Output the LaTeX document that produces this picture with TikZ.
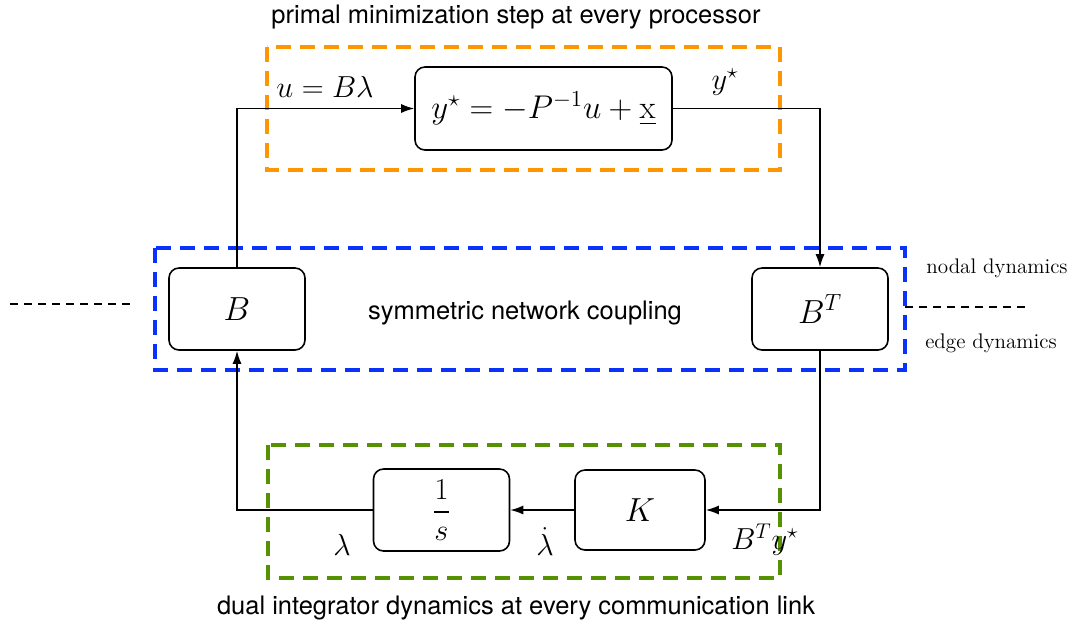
\RequirePackage{fix-cm}
\documentclass[tikz,border=0pt]{standalone}
\usepackage{amsmath, amssymb}
\usepackage{fontspec}
\newfontfamily\helv{TeX Gyre Heros}
\usepackage{tikz}
\usetikzlibrary{positioning, shapes, arrows.meta, calc}

\definecolor{boxorange}{RGB}{255,150,0}
\definecolor{boxblue}{RGB}{10,50,250}
\definecolor{boxgreen}{RGB}{85,145,0}

\begin{document}
\begin{tikzpicture}[node distance=3.97cm, auto,
  block/.style={draw, rounded corners=0.2cm, line width=0.9pt, minimum width=2.72cm, minimum height=1.64cm, inner sep=0pt, font=\fontsize{19}{23}\selectfont},
  group/.style={line width=2.2pt, dash pattern=on 0.3cm off 0.18cm},
  sig/.style={-{Latex[length=2.6mm, width=1.8mm]}, line width=0.8pt},
  note/.style={font=\helv\fontsize{14.5}{17}\selectfont},
  side/.style={font=\fontsize{12}{14}\selectfont},
  lbl/.style={font=\fontsize{17.3}{20}\selectfont},
  split/.style={dash pattern=on 0.16cm off 0.12cm, line width=0.8pt}]
  \useasboundingbox (0,0) rectangle (21.5,-12.52);

  % dashed groups
  \draw[group, boxorange] (5.34,-0.94) rectangle (15.60,-3.40);
  \draw[group, boxblue] (3.10,-4.96) rectangle (18.10,-7.40);
  \draw[group, boxgreen] (5.36,-8.90) rectangle (15.60,-11.56);

  % blocks
  \node[block] (B) at (4.74,-6.18) {$B$};
  \node[block] (BT) at (16.40,-6.18) {$B^T$};
  \node[block, minimum width=5.14cm, minimum height=1.66cm, font=\fontsize{18.7}{23}\selectfont] (primal) at (10.87,-2.17) {$y^\star = -P^{-1}u + \underline{\mathrm{x}}$};
  \node[block, font=\fontsize{17.3}{21}\selectfont] (integ) at (8.83,-10.20) {$\displaystyle\frac{1}{s}$};
  \node[block, minimum width=2.6cm, minimum height=1.6cm] (gain) [right of=integ] {$K$};

  % signals
  \draw[sig] (B.north) |- (primal.west);
  \draw[sig] (primal.east) -| (BT.north);
  \draw[sig] (BT.south) |- (gain.east);
  \draw[sig] (gain.west) -- (integ.east);
  \draw[sig] (integ.west) -| (B.south);

  % labels
  \node[lbl] (ulabel) at (6.50,-1.74) {$u = B\lambda$};
  \node[lbl] (ylabel) at (14.50,-1.64) {$y^\star$};
  \node[lbl] (lamlabel) at (6.84,-10.90) {$\lambda$};
  \node[lbl] (dlamlabel) at (10.90,-10.84) {$\dot\lambda$};
  \node[lbl] (bylabel) at (15.30,-10.80) {$B^Ty^\star$};

  \node[note] (primaltitle) at (10.32,-0.34) {primal minimization step at every processor};
  \node[note] (dualtitle) at (10.32,-12.16) {dual integrator dynamics at every communication link};
  \node[note] (coupling) at (10.50,-6.26) {symmetric network coupling};
  \node[side] (nodal) at (19.94,-5.36) {nodal dynamics};
  \node[side] (edge) at (19.82,-6.86) {edge dynamics};

  % level split
  \coordinate (lefta) at (0.20,-6.08);
  \coordinate (leftb) at (2.66,-6.08);
  \coordinate (righta) at (18.10,-6.14);
  \coordinate (rightb) at (20.56,-6.14);
  \draw[split] (lefta) -- (leftb);
  \draw[split] (righta) -- (rightb);
\end{tikzpicture}
\end{document}
